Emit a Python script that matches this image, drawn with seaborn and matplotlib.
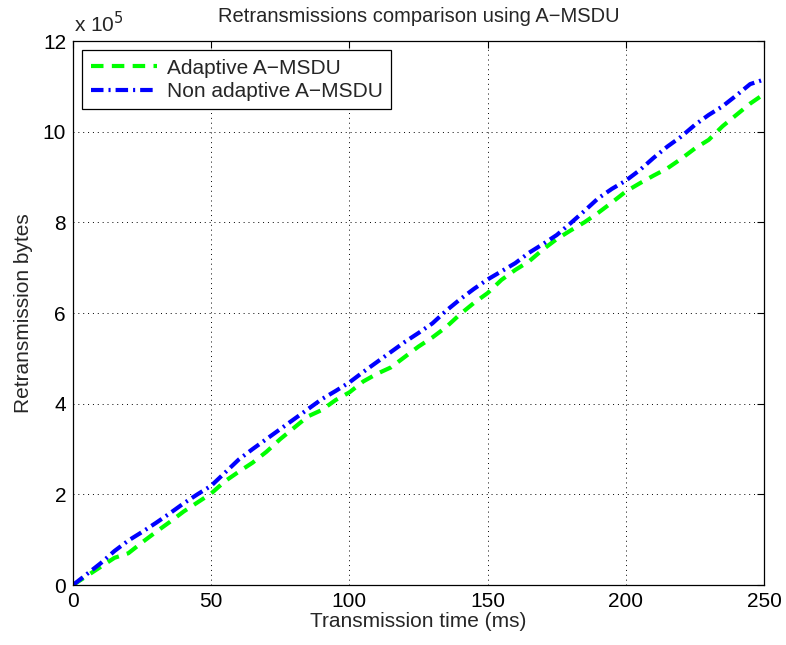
import matplotlib
matplotlib.use("Agg")
import matplotlib.pyplot as plt
import seaborn as sns
import pandas as pd
from matplotlib.ticker import FuncFormatter, MultipleLocator

# Transmission time (ms)
time_ms = [0, 5, 10, 15, 20, 25, 30, 35, 40, 45, 50, 55, 60, 65, 70, 75, 80, 85, 90, 95,
           100, 105, 110, 115, 120, 125, 130, 135, 140, 145, 150, 155, 160, 165, 170, 175,
           180, 185, 190, 195, 200, 205, 210, 215, 220, 225, 230, 235, 240, 245, 250]

# Retransmitted bytes (x 1e5)
adaptive = [0, 0.20, 0.40, 0.60, 0.70, 0.94, 1.17, 1.39, 1.62, 1.82, 2.02, 2.29, 2.50, 2.70,
            2.94, 3.22, 3.47, 3.72, 3.86, 4.08, 4.25, 4.49, 4.66, 4.80, 5.03, 5.26, 5.46,
            5.69, 5.97, 6.22, 6.44, 6.73, 6.95, 7.14, 7.40, 7.63, 7.82, 8.00, 8.21, 8.44,
            8.68, 8.86, 9.03, 9.19, 9.40, 9.63, 9.82, 10.12, 10.37, 10.62, 10.83]
non_adaptive = [0, 0.24, 0.48, 0.75, 0.98, 1.17, 1.37, 1.58, 1.80, 2.00, 2.19, 2.48, 2.77,
                3.00, 3.22, 3.44, 3.66, 3.88, 4.10, 4.28, 4.47, 4.70, 4.92, 5.14, 5.36, 5.56,
                5.77, 6.05, 6.30, 6.53, 6.74, 6.92, 7.10, 7.33, 7.52, 7.72, 7.98, 8.25, 8.53,
                8.74, 8.92, 9.15, 9.42, 9.67, 9.89, 10.15, 10.37, 10.56, 10.80, 11.05, 11.15]

series_names = ["Adaptive A\u2212MSDU", "Non adaptive A\u2212MSDU"]

df = pd.concat([
    pd.DataFrame({"time": time_ms, "bytes": [v * 1e5 for v in adaptive], "series": series_names[0]}),
    pd.DataFrame({"time": time_ms, "bytes": [v * 1e5 for v in non_adaptive], "series": series_names[1]}),
])

sns.set_style("white")
plt.rcParams["font.family"] = ["Liberation Sans", "DejaVu Sans"]
FS = 15

fig = plt.figure(figsize=(7.86, 6.45), dpi=100)
ax = fig.add_axes([0.0929, 0.093, 0.972 - 0.0929, 0.9364 - 0.093])

palette = {series_names[0]: (0, 1, 0), series_names[1]: (0, 0, 1)}
sns.lineplot(data=df, x="time", y="bytes", hue="series", style="series",
             palette=palette, dashes=False, ax=ax, linewidth=3, legend=False)
ax.lines[0].set_linestyle((0, (3, 2)))
ax.lines[1].set_linestyle((0, (3, 1.2, 0.5, 1.2)))

ax.set_xlim(0, 250)
ax.set_ylim(0, 12e5)
ax.xaxis.set_major_locator(MultipleLocator(50))
ax.yaxis.set_major_locator(MultipleLocator(2e5))
ax.yaxis.set_major_formatter(FuncFormatter(lambda v, p: f"{v / 1e5:g}"))
ax.tick_params(direction="in", top=True, right=True, length=5, width=0.8,
               labelsize=FS, colors="black", pad=5)
ax.grid(True, linestyle=(0, (1, 4)), color="black", linewidth=0.7)
for s in ax.spines.values():
    s.set_visible(True)
    s.set_color("black")
    s.set_linewidth(0.9)

ax.set_xlabel("Transmission time (ms)", fontsize=FS, labelpad=1)
ax.set_ylabel("Retransmission bytes", fontsize=FS, labelpad=7)
ax.set_title("Retransmissions comparison using A\u2212MSDU", fontsize=FS - 0.5, pad=14)
ax.text(0.002, 1.008, r"x 10$^5$", transform=ax.transAxes, fontsize=FS,
        ha="left", va="bottom")

leg = ax.legend(handles=ax.lines[:2], labels=series_names, loc="upper left",
                fontsize=FS, frameon=True, fancybox=False, edgecolor="black",
                framealpha=1, borderaxespad=0.45, handlelength=3.2,
                borderpad=0.4, labelspacing=0.2, handletextpad=0.45)
leg.get_frame().set_linewidth(0.9)

fig.savefig("out.png", dpi=100)
